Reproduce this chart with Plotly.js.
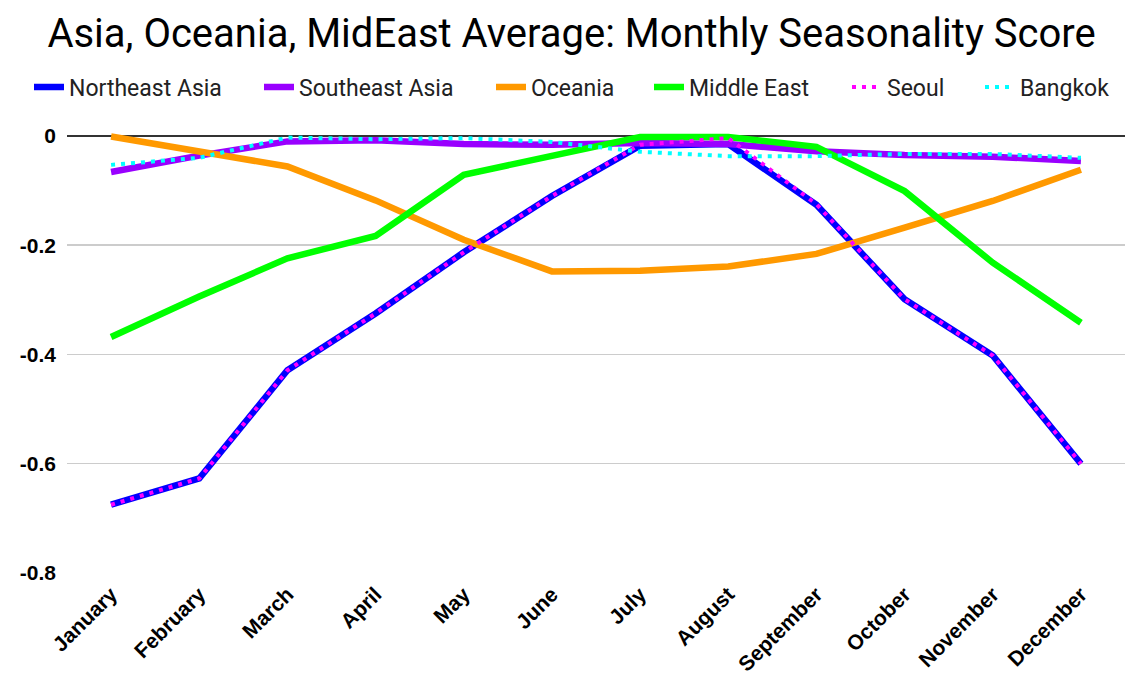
<!DOCTYPE html>
<html>
<head>
<meta charset="utf-8">
<script src="https://cdn.plot.ly/plotly-3.0.1.min.js"></script>
<style>html,body{margin:0;padding:0;background:#fff;}#chart{width:1125px;height:679px;}</style>
</head>
<body>
<div id="chart"></div>
<script>
const months = ["January","February","March","April","May","June","July","August","September","October","November","December"];
const northeastAsia = [-0.675,-0.627,-0.429,-0.325,-0.213,-0.110,-0.018,-0.015,-0.126,-0.299,-0.402,-0.600];
const southeastAsia = [-0.066,-0.036,-0.010,-0.008,-0.015,-0.016,-0.013,-0.015,-0.028,-0.035,-0.038,-0.046];
const oceania = [-0.001,-0.029,-0.056,-0.118,-0.190,-0.248,-0.247,-0.239,-0.216,-0.168,-0.119,-0.062];
const middleEast = [-0.368,-0.294,-0.224,-0.183,-0.071,-0.038,-0.002,-0.002,-0.020,-0.101,-0.232,-0.342];
const seoul = [-0.675,-0.627,-0.429,-0.325,-0.213,-0.110,-0.016,-0.004,-0.125,-0.299,-0.402,-0.600];
const bangkok = [-0.053,-0.040,-0.003,-0.006,-0.004,-0.011,-0.029,-0.037,-0.037,-0.033,-0.033,-0.040];
const yTicks = [0,-0.2,-0.4,-0.6,-0.8];
const yTickText = ["0","-0.2","-0.4","-0.6","-0.8"];

const traces = [
  {name:"Northeast Asia", y:northeastAsia, legend:"legend", line:{color:"#0000ff", width:6.5}},
  {name:"Southeast Asia", y:southeastAsia, legend:"legend2", line:{color:"#9900ff", width:6.5}},
  {name:"Oceania", y:oceania, legend:"legend3", line:{color:"#ff9900", width:6.5}},
  {name:"Middle East", y:middleEast, legend:"legend4", line:{color:"#00ff00", width:6.5}},
  {name:"Seoul", y:seoul, legend:"legend5", line:{color:"#ff00ff", width:4, dash:"4px,6px"}},
  {name:"Bangkok", y:bangkok, legend:"legend6", line:{color:"#00ffff", width:4, dash:"4px,6px"}}
].map(t => Object.assign({x:months, type:"scatter", mode:"lines"}, t));

const legendXs = [29, 259, 491, 649, 847, 980];
const legFont = {size:23, family:"Roboto, Arial, sans-serif", color:"#222"};
function leg(px){
  return {orientation:"h", xref:"container", yref:"container", x:px/1125, xanchor:"left", y:1-87/679, yanchor:"middle", font:legFont, itemwidth:30, bgcolor:"rgba(0,0,0,0)"};
}

const layout = {
  width:1125, height:679,
  paper_bgcolor:"#fff", plot_bgcolor:"#fff",
  font:{family:"Roboto, Arial, sans-serif", color:"#000"},
  title:{text:"Asia, Oceania, MidEast Average: Monthly Seasonality Score", font:{size:40, family:"Roboto, Arial, sans-serif", color:"#000"}, x:0.508, xanchor:"center", xref:"container", yref:"container", y:1-33/679, yanchor:"middle"},
  margin:{l:67, r:0, t:125, b:106},
  showlegend:true,
  legend:leg(legendXs[0]), legend2:leg(legendXs[1]), legend3:leg(legendXs[2]),
  legend4:leg(legendXs[3]), legend5:leg(legendXs[4]), legend6:leg(legendXs[5]),
  xaxis:{type:"category", range:[-0.5,11.5], showgrid:false, zeroline:false, showline:false, ticks:"", tickangle:-45, ticklabelstandoff:4, tickfont:{size:21, family:"'Liberation Sans', Arial, sans-serif", weight:"bold", color:"#000"}, automargin:false},
  yaxis:{range:[-0.8,0.02], tickvals:yTicks, ticktext:yTickText, showgrid:true, gridcolor:"#cccccc", gridwidth:1.5, zeroline:true, zerolinecolor:"#333", zerolinewidth:1.5, ticks:"", ticklen:0, ticklabelstandoff:10, tickfont:{size:21, family:"'Liberation Sans', Arial, sans-serif", weight:"bold", color:"#000"}, automargin:false}
};
Plotly.newPlot("chart", traces, layout, {displayModeBar:false, staticPlot:true});
</script>
</body>
</html>
